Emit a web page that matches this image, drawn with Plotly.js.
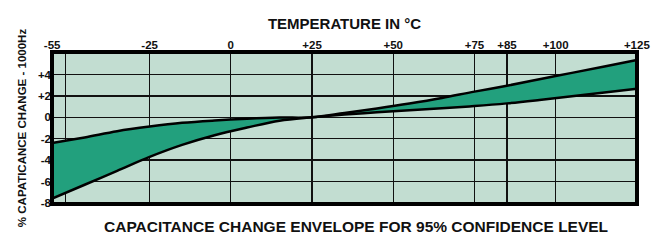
<!DOCTYPE html>
<html><head><meta charset="utf-8">
<script src="https://cdn.plot.ly/plotly-3.0.1.min.js"></script>
<style>html,body{margin:0;padding:0;background:#fff}#chart{width:651px;height:242px}</style>
</head><body><div id="chart"></div>
<script>
const tempC = [-55, -45, -35, -25, -15, -5, 5, 15, 25, 35, 45, 55, 65, 75, 85, 95, 105, 115, 125];
const upperPct = [-2.4, -1.88, -1.3, -0.87, -0.52, -0.3, -0.14, -0.03, 0, 0.4, 0.82, 1.28, 1.8, 2.4, 2.95, 3.55, 4.15, 4.75, 5.35];
const lowerPct = [-7.6, -6.3, -5.0, -3.7, -2.58, -1.68, -0.96, -0.32, 0, 0.25, 0.47, 0.66, 0.85, 1.05, 1.3, 1.62, 1.97, 2.32, 2.67];
const xTickVals = [-55, -25, 0, 25, 50, 75, 85, 100, 125];
const xTickText = ['-55', '-25', '0', '+25', '+50', '+75', '+85', '+100', '+125'];
const yTickVals = [4, 2, 0, -2, -4, -6, -8];
const yTickText = ['+4', '+2', '0', '-2', '-4', '-6', '-8'];

const F = {family: 'Liberation Sans, Arial, sans-serif', color: '#111', weight: 'bold'};
const traces = [
  {x: tempC, y: lowerPct, mode: 'lines', line: {color: '#000', width: 2.5, shape: 'spline', smoothing: 1}, hoverinfo: 'skip'},
  {x: tempC, y: upperPct, mode: 'lines', fill: 'tonexty', fillcolor: '#22a07d',
   line: {color: '#000', width: 2.5, shape: 'spline', smoothing: 1}, hoverinfo: 'skip'}
];
const layout = {
  width: 651, height: 242,
  margin: {l: 52, r: 14, t: 52, b: 38},
  paper_bgcolor: '#fff', plot_bgcolor: '#c2ddd1',
  showlegend: false,
  xaxis: {
    range: [-55.05, 125.05], side: 'top', tickmode: 'array', tickvals: xTickVals, ticktext: xTickText,
    showgrid: true, gridcolor: '#111', gridwidth: 1.3, zeroline: false, ticks: '', ticklen: 0,
    tickfont: Object.assign({size: 11.5}, F), showline: false, ticklabeloverflow: 'allow',
    minor: {tickmode: 'array', tickvals: [-51], showgrid: true, gridcolor: '#111', gridwidth: 1.3, ticks: ''},
    title: {text: 'TEMPERATURE IN °C', font: Object.assign({size: 15}, F), standoff: 5}
  },
  yaxis: {
    range: [-8.1, 6.1], tickmode: 'array', tickvals: yTickVals, ticktext: yTickText,
    showgrid: true, gridcolor: '#111', gridwidth: 1.3, zeroline: false, ticks: '',
    tickfont: Object.assign({size: 11.5}, F), showline: false,
    title: {text: '% CAPATICANCE CHANGE - 1000Hz', font: Object.assign({size: 11.5}, F), standoff: 8}
  },
  shapes: [
    {type: 'rect', xref: 'paper', yref: 'paper', x0: 0, x1: 1, y0: 0, y1: 1, line: {color: '#000', width: 4}}
  ],
  annotations: [
    {text: 'CAPACITANCE CHANGE ENVELOPE FOR 95% CONFIDENCE LEVEL', xref: 'paper', yref: 'paper',
     x: 0.52, y: 0, yshift: -33, showarrow: false, font: Object.assign({size: 15.5}, F)}
  ]
};
Plotly.newPlot('chart', traces, layout, {displayModeBar: false, staticPlot: true});
</script></body></html>
